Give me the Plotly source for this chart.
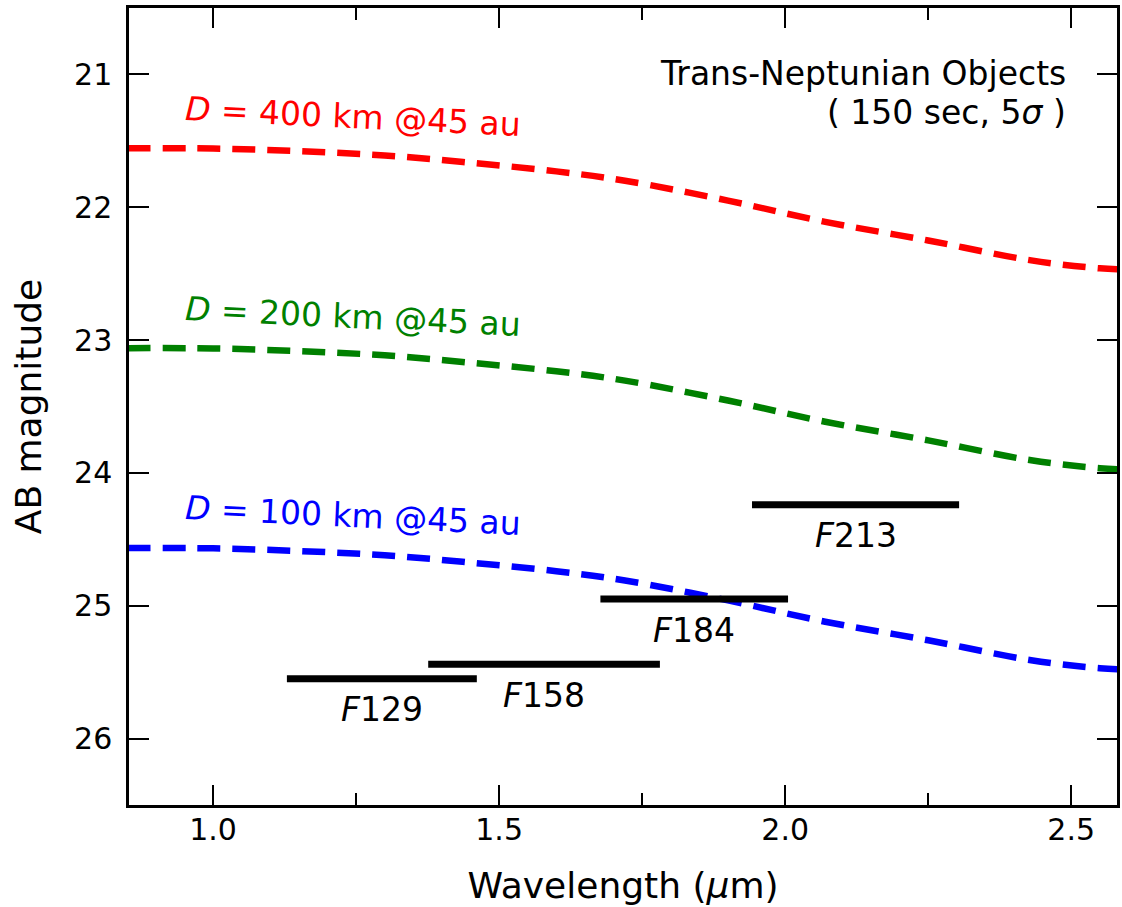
import plotly.graph_objects as go

wavelength = [0.85, 1.0, 1.15, 1.3, 1.45, 1.6, 1.72, 1.9, 2.07, 2.25, 2.43, 2.55, 2.6]
mag_400km = [21.556, 21.558, 21.578, 21.61, 21.665, 21.73, 21.80, 21.95, 22.11, 22.25, 22.40, 22.46, 22.47]
mag_200km = [23.061, 23.063, 23.083, 23.115, 23.17, 23.235, 23.305, 23.455, 23.615, 23.755, 23.905, 23.965, 23.975]
mag_100km = [24.566, 24.568, 24.588, 24.62, 24.675, 24.74, 24.81, 24.96, 25.12, 25.26, 25.41, 25.47, 25.48]

curve_labels = ["<i>D</i> = 400 km @45 au", "<i>D</i> = 200 km @45 au", "<i>D</i> = 100 km @45 au"]
curve_colors = ["#ff0000", "#008000", "#0000ff"]
label_x = 1.245
label_y = [21.316, 22.82, 24.32]

filters = ["F129", "F158", "F184", "F213"]
filter_lo = [1.129, 1.376, 1.677, 1.942]
filter_hi = [1.461, 1.781, 2.005, 2.304]
filter_mag = [25.55, 25.44, 24.95, 24.24]

FONT = "DejaVu Sans"
fig = go.Figure()

for ys, c in zip([mag_400km, mag_200km, mag_100km], curve_colors):
    fig.add_trace(go.Scatter(x=wavelength, y=ys, mode="lines",
                             line=dict(color=c, width=6.5, dash="23px,12px", shape="spline"),
                             showlegend=False, hoverinfo="skip"))

for lab, c, ly in zip(curve_labels, curve_colors, label_y):
    fig.add_annotation(x=label_x, y=ly, text=lab, showarrow=False, xanchor="center", yanchor="middle",
                       textangle=2.7, font=dict(family=FONT, size=33, color=c))

for name, lo, hi, m in zip(filters, filter_lo, filter_hi, filter_mag):
    fig.add_trace(go.Scatter(x=[lo, hi], y=[m, m], mode="lines",
                             line=dict(color="black", width=7), showlegend=False, hoverinfo="skip"))
    fig.add_annotation(x=(lo + hi) / 2, y=m, text="<i>F</i>" + name[1:], showarrow=False,
                       xanchor="center", yanchor="middle", yshift=-31,
                       font=dict(family=FONT, size=33, color="black"))

fig.add_annotation(x=2.495, y=20.99, text="Trans-Neptunian Objects",
                   showarrow=False, xanchor="right", yanchor="middle",
                   font=dict(family=FONT, size=33, color="black"))
fig.add_annotation(x=2.495, y=21.29, text="( 150 sec, 5<i>σ</i> )",
                   showarrow=False, xanchor="right", yanchor="middle",
                   font=dict(family=FONT, size=33, color="black"))

axis_common = dict(showline=True, linecolor="black", linewidth=2.5, mirror="allticks",
                   ticks="inside", ticklen=20, tickwidth=2, tickcolor="black",
                   showgrid=False, zeroline=False, automargin=False,
                   tickfont=dict(family=FONT, size=30, color="black"))

fig.update_xaxes(range=[0.853, 2.58], tickvals=[1.0, 1.5, 2.0, 2.5], ticktext=["1.0", "1.5", "2.0", "2.5"],
                 minor=dict(tickvals=[1.25, 1.75, 2.25], ticks="inside", ticklen=12, tickwidth=2, tickcolor="black"),
                 title=dict(text="Wavelength (<i>μ</i>m)", font=dict(family=FONT, size=36, color="black"), standoff=28),
                 ticklabelstandoff=-4,
                 **axis_common)
fig.update_yaxes(range=[26.5, 20.5], tickvals=[21, 22, 23, 24, 25, 26],
                 title=dict(text="AB magnitude", font=dict(family=FONT, size=36, color="black"), standoff=22),
                 ticklabelstandoff=8,
                 **axis_common)

fig.update_layout(width=1122, height=907, margin=dict(l=129, r=5, t=8, b=102),
                  plot_bgcolor="white", paper_bgcolor="white")

fig.write_html("out.html", config={"displayModeBar": False},
               post_script="document.body.style.margin='0px';document.body.style.overflow='hidden';")
